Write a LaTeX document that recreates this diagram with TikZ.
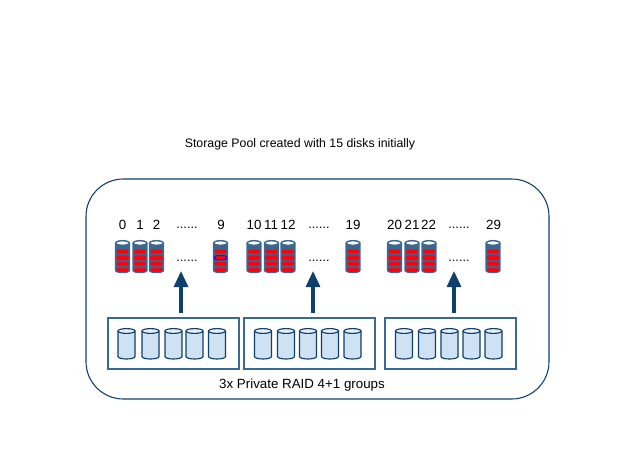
\documentclass[tikz,border=0pt]{standalone}
\usepackage{fontspec}
\setmainfont{Liberation Sans}
\usetikzlibrary{arrows.meta}
\definecolor{navy}{HTML}{0F3F6B}
\definecolor{framec}{HTML}{3A6A94}
\definecolor{lightblue}{HTML}{CFE2F3}
\definecolor{barred}{HTML}{FF0010}
\tikzset{
  x=0.75pt,y=-0.75pt,
  lbl/.style={font=\fontsize{9.25pt}{11pt}\selectfont,text=black,inner sep=0pt},
  numlbl/.style={font=\fontsize{10pt}{11pt}\selectfont,text=black,inner sep=0pt,anchor=base},
  dotlbl/.style={font=\fontsize{9.5pt}{11pt}\selectfont,text=black,inner sep=0pt,anchor=base},
  caplbl/.style={font=\fontsize{10pt}{11pt}\selectfont,text=black,inner sep=0pt},
  groupbox/.style={draw=framec,line width=0.8pt,fill=white},
  pool/.style={draw=navy,line width=0.8pt,rounded corners=28pt},
  uparrow/.style={draw=navy,line width=2.3pt,-{Triangle[length=12pt,width=10.5pt]}},
}
\newcommand{\smalldisk}[2][barred]{%
  \draw[draw=framec,line width=1.1pt,fill=navy!80!white] (#2-6.8,243) -- (#2-6.8,270.5) arc[x radius=6.8,y radius=2,start angle=180,end angle=0] -- (#2+6.8,243);
  \draw[draw=framec,line width=1.1pt,fill=white] (#2,243) ellipse[x radius=6.8,y radius=2.3];
  \fill[barred,rounded corners=1pt] (#2-6,249.5) rectangle (#2+6,253.5);
  \fill[barred,draw=#1,line width=0.6pt,rounded corners=1pt] (#2-6,255.8) rectangle (#2+6,259.6);
  \fill[barred,rounded corners=1pt] (#2-6,261.8) rectangle (#2+6,265.6);
  \fill[barred,rounded corners=1pt] (#2-6,267.8) rectangle (#2+6,271.8);
}
\newcommand{\bigdisk}[1]{%
  \draw[draw=navy,line width=0.85pt,fill=lightblue] (#1-8.5,331) -- (#1-8.5,356.5) arc[x radius=8.5,y radius=2.5,start angle=180,end angle=0] -- (#1+8.5,331);
  \draw[draw=navy,line width=0.85pt,fill=lightblue!55!white] (#1,331) ellipse[x radius=8.5,y radius=2.4];
}
\begin{document}
\begin{tikzpicture}
\useasboundingbox (0,0) rectangle (634,475);
\fill[white] (0,0) rectangle (634,475);
\node[lbl] (title) at (300,144.5) {Storage Pool created with 15 disks initially};
\draw[pool] (86,179) rectangle (549,399);
\foreach \t/\x/\n in {0/122.5/a0,1/140/a1,2/156.5/a2,9/221/a9,10/254/b0,11/271/b1,12/288/b2,19/353/b9,20/394.5/c0,21/412/c1,22/428.5/c2,29/493.5/c9}{
  \node[numlbl] (\n) at (\x,229) {\t};
}
\foreach \x/\n in {187/da,319/db,459/dc}{
  \node[dotlbl] (\n t) at (\x,228) {......};
  \node[dotlbl] (\n m) at (\x,261) {......};
}
\foreach \x in {122.5,140,156.5,254,271.5,288,353,394.5,412,429,493}{\smalldisk{\x}}
\smalldisk[blue]{220.5}
\draw[groupbox] (108,318) rectangle (239,369);
\draw[groupbox] (244,318) rectangle (375,369);
\draw[groupbox] (385,318) rectangle (516,369);
\foreach \x in {126.5,150.5,173.5,194.5,217,263,286,308,330,352.5,404,427,449.5,471.5,493.5}{\bigdisk{\x}}
\coordinate (s1) at (181,313); \coordinate (e1) at (181,271);
\coordinate (s2) at (313,313); \coordinate (e2) at (313,271);
\coordinate (s3) at (454,313); \coordinate (e3) at (454,271);
\draw[uparrow] (s1) -- (e1);
\draw[uparrow] (s2) -- (e2);
\draw[uparrow] (s3) -- (e3);
\node[caplbl] (caption) at (302,385) {3x Private RAID 4+1 groups};
\end{tikzpicture}
\end{document}
